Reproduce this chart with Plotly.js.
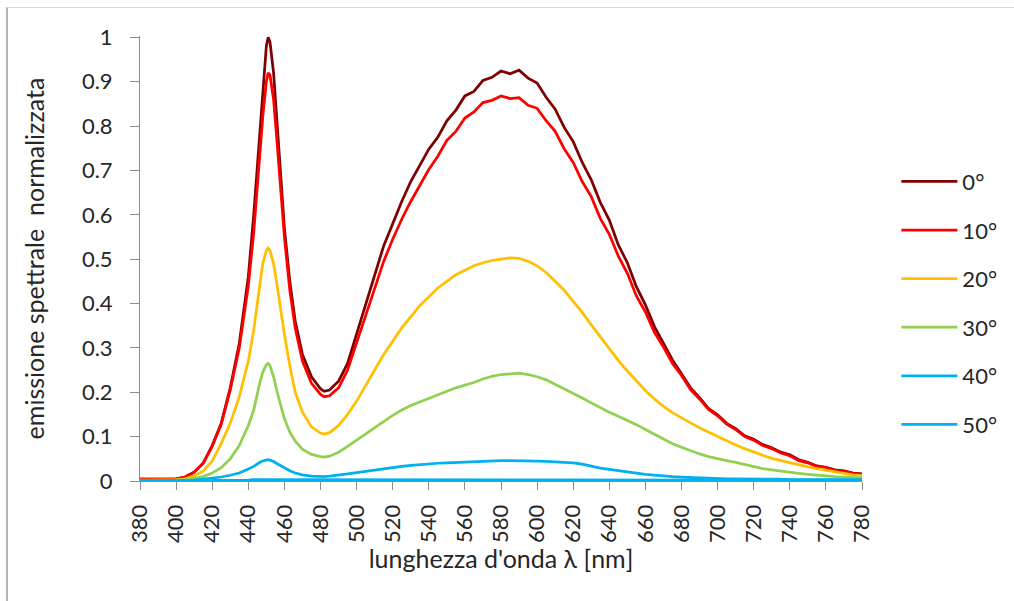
<!DOCTYPE html>
<html><head><meta charset="utf-8">
<script src="https://cdn.plot.ly/plotly-3.0.1.min.js"></script>
<style>
html,body{margin:0;padding:0;background:#fff}
#wrap{position:relative;width:1014px;height:601px;overflow:hidden}
#chart{width:1014px;height:601px}
#frame{position:absolute;left:6px;top:7px;width:1010px;height:600px;border-top:1px solid #d9d9d9;border-left:2px solid #b5b5b5;pointer-events:none}
</style>
</head><body><div id="wrap"><div id="chart"></div><div id="frame"></div></div>
<script>
const wavelength = [380,385,390,395,400,405,410,415,420,425,430,435,440,443,446,448,450,451,452,454,456,458,460,463,466,470,475,480,482,485,
490,495,500,505,510,515,520,525,530,535,540,545,550,555,560,565,570,575,580,585,590,595,600,605,610,615,620,625,630,635,640,645,650,655,660,665,670,675,680,685,690,695,700,705,710,715,720,725,730,735,740,745,750,755,760,765,770,775,780];

const angle0 = [0.004,0.004,0.004,0.004,0.005,0.009,0.02,0.04,0.08,0.13,0.21,0.31,0.46,0.6,0.76,0.88,0.98,1.0,0.99,0.92,0.8,0.68,0.57,0.45,0.36,0.285,0.235,0.208,0.202,0.205,
0.225,0.265,0.33,0.4,0.46,0.53,0.58,0.63,0.675,0.71,0.748,0.775,0.812,0.836,0.868,0.878,0.903,0.91,0.924,0.918,0.926,0.908,0.897,0.865,0.838,0.797,0.765,0.718,0.679,0.628,0.588,0.532,0.492,0.438,0.397,0.348,0.312,0.273,0.242,0.21,0.188,0.163,0.149,0.13,0.118,0.102,0.094,0.082,0.075,0.065,0.059,0.048,0.042,0.034,0.031,0.025,0.023,0.018,0.016];

const angle10 = [0.004,0.004,0.004,0.004,0.005,0.009,0.02,0.04,0.078,0.128,0.205,0.3,0.44,0.56,0.72,0.82,0.9,0.92,0.915,0.86,0.76,0.65,0.55,0.43,0.345,0.27,0.22,0.195,0.19,0.192,
0.21,0.25,0.31,0.375,0.43,0.495,0.545,0.59,0.63,0.665,0.702,0.732,0.768,0.788,0.818,0.832,0.853,0.858,0.868,0.862,0.864,0.847,0.84,0.812,0.788,0.749,0.718,0.675,0.641,0.592,0.556,0.507,0.468,0.417,0.381,0.335,0.302,0.265,0.238,0.206,0.185,0.161,0.147,0.128,0.116,0.1,0.092,0.08,0.073,0.063,0.057,0.046,0.041,0.033,0.03,0.024,0.022,0.017,0.015];

const angle20 = [0.002,0.002,0.002,0.002,0.003,0.005,0.012,0.022,0.045,0.085,0.13,0.19,0.27,0.34,0.43,0.49,0.52,0.525,0.52,0.49,0.44,0.38,0.33,0.26,0.2,0.155,0.122,0.108,0.106,0.109,
0.125,0.15,0.18,0.215,0.25,0.285,0.315,0.345,0.37,0.395,0.415,0.435,0.45,0.465,0.475,0.485,0.492,0.497,0.5,0.503,0.502,0.495,0.485,0.47,0.45,0.43,0.405,0.38,0.352,0.325,0.298,0.272,0.248,0.225,0.204,0.185,0.168,0.154,0.142,0.131,0.12,0.11,0.1,0.09,0.081,0.073,0.065,0.058,0.051,0.046,0.041,0.036,0.032,0.028,0.024,0.02,0.017,0.014,0.012];

const angle30 = [0.001,0.001,0.001,0.001,0.002,0.003,0.006,0.01,0.018,0.03,0.05,0.08,0.125,0.16,0.215,0.245,0.262,0.265,0.26,0.235,0.2,0.17,0.14,0.11,0.09,0.072,0.06,0.055,0.054,0.056,
0.065,0.078,0.092,0.108,0.122,0.136,0.148,0.16,0.17,0.178,0.186,0.195,0.203,0.21,0.216,0.222,0.23,0.236,0.24,0.242,0.243,0.24,0.235,0.228,0.218,0.208,0.198,0.187,0.176,0.165,0.155,0.146,0.137,0.127,0.116,0.105,0.094,0.084,0.076,0.068,0.061,0.055,0.05,0.046,0.042,0.037,0.032,0.028,0.025,0.022,0.019,0.017,0.015,0.013,0.011,0.01,0.009,0.008,0.007];

const angle40 = [0.001,0.001,0.001,0.001,0.001,0.001,0.002,0.004,0.006,0.009,0.013,0.018,0.027,0.033,0.041,0.045,0.047,0.048,0.047,0.044,0.039,0.034,0.029,0.023,0.018,0.014,0.011,0.01,0.01,0.011,
0.013,0.016,0.019,0.022,0.025,0.028,0.031,0.033,0.035,0.037,0.039,0.04,0.041,0.042,0.043,0.044,0.045,0.045,0.046,0.046,0.046,0.045,0.045,0.044,0.043,0.042,0.041,0.038,0.033,0.029,0.026,0.023,0.02,0.017,0.015,0.013,0.011,0.01,0.009,0.008,0.007,0.007,0.006,0.005,0.005,0.005,0.004,0.004,0.004,0.004,0.003,0.003,0.003,0.003,0.003,0.003,0.003,0.003,0.003];

const angle50 = [0.001,0.001,0.001,0.001,0.001,0.001,0.001,0.001,0.002,0.002,0.002,0.002,0.002,0.003,0.003,0.003,0.003,0.003,0.003,0.003,0.003,0.003,0.002,0.002,0.002,0.002,0.002,0.002,0.002,0.002,
0.002,0.002,0.002,0.002,0.002,0.002,0.002,0.002,0.002,0.002,0.002,0.002,0.002,0.002,0.002,0.002,0.002,0.002,0.002,0.002,0.002,0.002,0.002,0.002,0.002,0.002,0.002,0.002,0.002,0.002,0.002,0.002,0.002,0.002,0.002,0.002,0.002,0.002,0.002,0.002,0.002,0.002,0.002,0.002,0.002,0.002,0.002,0.002,0.002,0.002,0.002,0.002,0.002,0.002,0.002,0.002,0.002,0.002,0.002];

const seriesNames = ['0°','10°','20°','30°','40°','50°'];
const seriesValues = [angle0, angle10, angle20, angle30, angle40, angle50];
const seriesColors = ['#7f0000','#ff0000','#ffc000','#92d050','#00b0f0','#00b0f0'];
const xTicks = [380,400,420,440,460,480,500,520,540,560,580,600,620,640,660,680,700,720,740,760,780];
const yTicks = [0,0.1,0.2,0.3,0.4,0.5,0.6,0.7,0.8,0.9,1];
const yTickText = ['0','0.1','0.2','0.3','0.4','0.5','0.6','0.7','0.8','0.9','1'];

const FONT = 'Lato, "Open Sans", sans-serif';
const traces = seriesNames.map((n, i) => ({
  x: wavelength, y: seriesValues[i], name: n, type: 'scatter', mode: 'lines',
  line: {color: seriesColors[i], width: 2.75}, legendgroup: 'g' + i
}));

const layout = {
  width: 1014, height: 601,
  margin: {l: 140, r: 148, t: 36, b: 120},
  paper_bgcolor: '#ffffff', plot_bgcolor: '#ffffff',
  font: {family: FONT, color: '#262626', size: 22},
  showlegend: true,
  legend: {x: 1.0476, xanchor: 'left', y: 0.72, yanchor: 'top', font: {family: FONT, size: 22, color: '#262626'},
           tracegroupgap: 17, itemwidth: 56, bgcolor: 'rgba(0,0,0,0)'},
  xaxis: {range: [380, 780], tickmode: 'array', tickvals: xTicks, ticktext: xTicks.map(String), tickangle: -90,
          ticks: 'outside', ticklen: 8, tickcolor: '#8c8c8c', showline: true, linecolor: '#8c8c8c', linewidth: 1,
          showgrid: false, zeroline: false, layer: 'below traces', ticklabelstandoff: 6,
          tickfont: {family: FONT, size: 22, color: '#262626'},
          title: {text: "lunghezza d'onda λ [nm]", font: {family: FONT, size: 25, color: '#262626'}, standoff: 2}},
  yaxis: {range: [0, 1.003], tickmode: 'array', tickvals: yTicks, ticktext: yTickText,
          ticks: 'outside', ticklen: 9, tickcolor: '#8c8c8c', showline: true, linecolor: '#8c8c8c', linewidth: 1,
          showgrid: false, zeroline: false, ticklabelstandoff: 13,
          tickfont: {family: FONT, size: 22, color: '#262626'},
          title: {text: 'emissione spettrale\u00a0\u00a0normalizzata', font: {family: FONT, size: 25, color: '#262626'}, standoff: 30}}
};
Plotly.newPlot('chart', traces, layout, {displayModeBar: false, staticPlot: true});
</script></body></html>
